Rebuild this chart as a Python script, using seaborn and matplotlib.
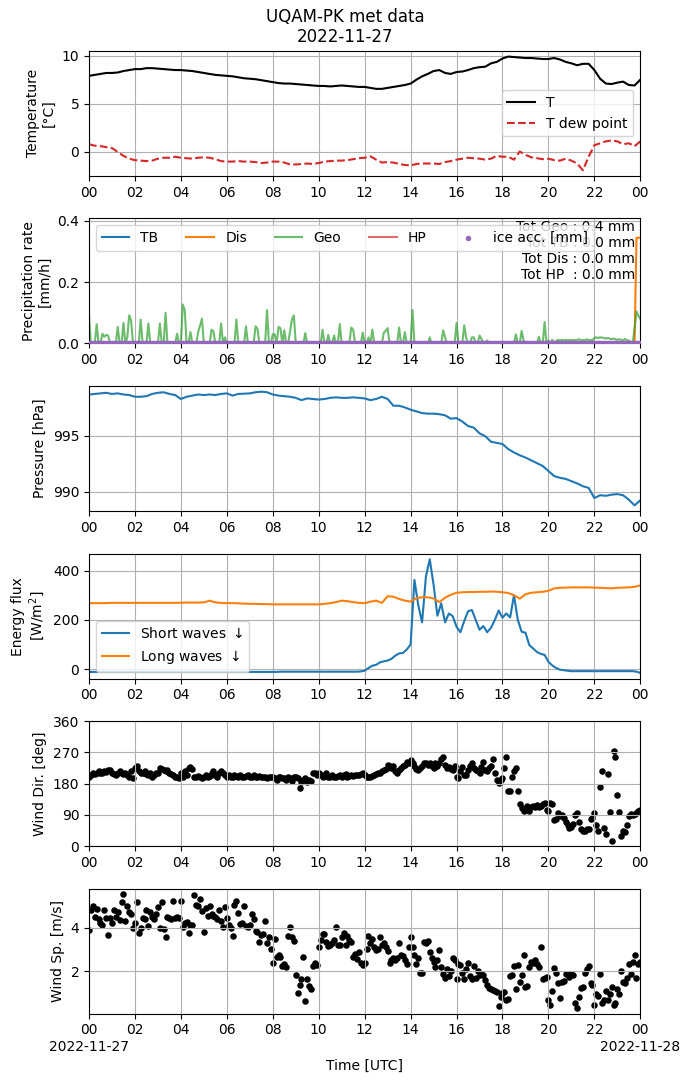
"""
plot.py
Daily met summary for the UQAM-PK station, 2022-11-27.
"""
import numpy as np
import pandas as pd
import matplotlib
matplotlib.use('Agg')
import matplotlib.pyplot as plt
import matplotlib.dates as mdates
import matplotlib.ticker as mticker
import seaborn as sns

DAY = '2022-11-27'

# Temperature and dew point, every 15 min (00:00 -> 24:00)
temp_c = [
    7.9, 8.0, 8.1, 8.2,  8.2, 8.25, 8.4, 8.5,  8.6, 8.6, 8.7, 8.7,
    8.65, 8.6, 8.55, 8.5,  8.5, 8.45, 8.4, 8.3,  8.2, 8.1, 8.0, 7.95,
    7.9, 7.85, 7.75, 7.65,  7.6, 7.55, 7.45, 7.35,  7.25, 7.15, 7.1, 7.1,
    7.05, 7.0, 6.95, 6.9,  6.85, 6.85, 6.8, 6.85,  6.9, 6.85, 6.8, 6.75,
    6.75, 6.65, 6.55, 6.55,  6.65, 6.75, 6.85, 6.95,  7.1, 7.5, 7.85, 8.1,
    8.4, 8.5, 8.2, 8.1,  8.3, 8.35, 8.5, 8.7,  8.8, 8.85, 9.2, 9.35,
    9.7, 9.9, 9.85, 9.8,  9.75, 9.75, 9.7, 9.65,  9.65, 9.75, 9.6, 9.35,
    9.2, 9.0, 9.15, 9.15,  8.5, 7.6, 7.1, 7.05,  7.2, 7.3, 6.95, 6.9,
    7.5,
]
dew_c = [
    0.8, 0.65, 0.6, 0.5,  0.4, 0.0, -0.4, -0.7,  -0.85, -0.9, -0.95, -0.9,
    -0.7, -0.6, -0.6, -0.5,  -0.6, -0.65, -0.7, -0.6,  -0.55, -0.6, -0.75, -0.95,
    -1.0, -1.0, -0.95, -1.0,  -1.0, -1.05, -1.15, -1.1,  -1.0, -1.0, -1.1, -1.3,
    -1.3, -1.25, -1.2, -1.25,  -1.15, -1.0, -0.95, -0.9,  -0.9, -0.85, -0.75, -0.65,
    -0.6, -0.45, -0.8, -1.1,  -1.05, -1.1, -1.25, -1.35,  -1.4, -1.25, -1.2, -1.2,
    -1.2, -1.25, -1.05, -0.95,  -0.8, -0.7, -0.6, -0.65,  -0.7, -0.8, -0.7, -0.4,
    -0.5, -0.5, -0.8, 0.05,  -0.3, -0.55, -0.65, -0.75,  -0.7, -0.85, -0.9, -0.7,
    -0.9, -1.2, -1.9, -0.5,  0.7, 0.9, 1.1, 1.2,  1.1, 0.8, 0.9, 0.6,
    1.1,
]

# Precipitation rates [mm/h], every 5 min (00:00 -> 24:00)
geo_rate = [
    0.087, 0, 0, 0, 0.063, 0, 0, 0.032, 0.022, 0.028, 0.026, 0,
    0, 0, 0, 0.054, 0, 0, 0.067, 0, 0.02, 0.092, 0.075, 0,
    0, 0, 0, 0.078, 0, 0, 0, 0.065, 0, 0, 0, 0,
    0, 0.065, 0, 0, 0.1, 0, 0, 0, 0, 0, 0.032, 0,
    0, 0.127, 0.11, 0, 0, 0.037, 0, 0, 0, 0.037, 0.058, 0.081,
    0, 0, 0, 0, 0.045, 0.04, 0, 0, 0, 0.065, 0, 0.02,
    0, 0, 0, 0, 0, 0.078, 0, 0, 0, 0, 0.056, 0,
    0, 0, 0, 0.056, 0.048, 0, 0, 0, 0, 0.109, 0, 0,
    0.03, 0.03, 0, 0.054, 0.05, 0, 0.043, 0, 0, 0.04, 0.078, 0.092,
    0, 0, 0, 0, 0, 0.034, 0, 0, 0, 0, 0, 0,
    0, 0, 0.045, 0, 0, 0.028, 0, 0, 0.026, 0, 0, 0.063,
    0, 0, 0, 0, 0, 0.052, 0.045, 0, 0, 0, 0, 0.036,
    0, 0, 0.02, 0, 0.045, 0, 0, 0, 0, 0, 0.035, 0.042,
    0.05, 0, 0, 0, 0, 0, 0.052, 0, 0, 0.037, 0, 0,
    0, 0.109, 0, 0, 0, 0, 0, 0, 0, 0, 0.02, 0,
    0, 0, 0, 0, 0, 0.043, 0.02, 0, 0, 0, 0, 0,
    0.067, 0, 0, 0, 0.059, 0.02, 0, 0, 0.02, 0.02, 0, 0,
    0.026, 0.015, 0, 0, 0.01, 0, 0, 0, 0, 0, 0, 0,
    0, 0, 0, 0, 0, 0, 0, 0.03, 0, 0, 0.041, 0.01,
    0, 0, 0, 0, 0, 0, 0, 0.022, 0, 0, 0.07, 0,
    0.01, 0, 0.012, 0, 0.008, 0.012, 0.01, 0.012, 0.01, 0.012, 0.01, 0.012,
    0.01, 0.012, 0.01, 0.012, 0.014, 0.01, 0.012, 0.01, 0.014, 0.01, 0.012, 0.01,
    0.018, 0.02, 0.018, 0.02, 0.019, 0.018, 0.016, 0.018, 0.016, 0.014, 0.016, 0.014,
    0.012, 0.014, 0.012, 0.01, 0.015, 0.01, 0.01, 0.005, 0, 0.05, 0.105, 0.09,
    0.08,
]
dis_rate = [0.0] * 286 + [0.345, 0.345, 0.345]
tb_rate = [0.0] * 289
hp_rate = [0.0] * 289
ice_acc = [0.0] * 289
precip_totals = {'Geo': 0.4, 'TB': 0.0, 'Dis': 0.0, 'HP ': 0.0}

# Pressure [hPa], every 15 min
pressure = [
    998.65, 998.7, 998.75, 998.8,  998.7, 998.75, 998.65, 998.6,
    998.45, 998.45, 998.5, 998.7,  998.8, 998.85, 998.7, 998.6,
    998.25, 998.45, 998.55, 998.65,  998.6, 998.65, 998.6, 998.7,
    998.75, 998.55, 998.7, 998.72,  998.75, 998.85, 998.9, 998.85,
    998.65, 998.55, 998.5, 998.45,  998.35, 998.15, 998.3, 998.25,
    998.2, 998.25, 998.35, 998.4,  998.35, 998.35, 998.4, 998.35,
    998.3, 998.15, 998.25, 998.45,  998.25, 997.65, 997.65, 997.5,
    997.3, 997.15, 997.0, 996.95,  996.95, 996.9, 996.8, 996.5,
    996.55, 996.25, 995.85, 995.7,  995.2, 994.95, 994.45, 994.35,
    994.25, 993.8, 993.5, 993.25,  993.05, 992.8, 992.55, 992.3,
    991.85, 991.4, 991.25, 991.15,  990.95, 990.75, 990.5, 990.35,
    989.45, 989.7, 989.65, 989.75,  989.8, 989.7, 989.3, 988.8,
    989.25,
]

# Long waves, every 15 min
long_wave = [
    268, 268, 268, 268,  269, 269, 269, 269,  269, 269, 269, 269,
    269, 269, 269, 269,  270, 270, 270, 270,  271, 278, 271, 269,
    268, 268, 267, 266,  265, 265, 264, 264,  263, 263, 263, 263,
    263, 263, 263, 263,  263, 265, 268, 272,  278, 276, 272, 269,
    268, 274, 278, 269,  296, 294, 285, 278,  274, 288, 292, 292,
    287, 272, 290, 302,  310, 312, 313, 313,  314, 314, 315, 314,
    312, 309, 300, 286,  304, 310, 312, 314,  318, 328, 330, 331,
    332, 332, 332, 332,  331, 330, 329, 328,  330, 331, 332, 334,
    340,
]
# Short waves, every 10 min
short_wave = [
    -11, -11, -11, -11, -11, -11,  -11, -11, -11, -11, -11, -11,
    -11, -11, -11, -11, -11, -11,  -11, -11, -11, -11, -11, -11,
    -11, -11, -11, -11, -11, -11,  -11, -11, -11, -11, -11, -11,
    -11, -11, -11, -11, -11, -11,  -11, -11, -11, -11, -11, -11,
    -11, -11, -10, -10, -10, -10,  -10, -10, -10, -10, -10, -10,
    -10, -10, -10, -10, -10, -10,  -10, -10, -10, -10, -10, -9,
    -6, 5, 14, 18, 28, 32,  35, 42, 55, 64, 66, 80,
    100, 362, 260, 190, 376, 446,  342, 217, 267, 190, 226, 215,
    172, 150, 195, 235, 240, 200,  160, 175, 150, 168, 200, 238,
    209, 226, 210, 300, 200, 152,  148, 98, 84, 70, 62, 58,
    30, 15, 5, -2, -4, -6,  -8, -8, -8, -8, -8, -8,
    -8, -8, -8, -8, -8, -8,  -8, -8, -8, -8, -8, -10,
    -15,
]

# Wind, every 5 min
wind_dir = [
    200, 205, 210, 208, 212, 215, 210, 212, 215, 213, 218, 220,
    212, 208, 205, 210, 215, 212, 208, 210, 205, 200, 215, 195,
    225, 230, 215, 212, 210, 215, 208, 205, 210, 200, 205, 210,
    212, 225, 222, 220, 215, 218, 212, 208, 205, 200, 198, 195,
    210, 200, 215, 205, 225, 228, 222, 200, 198, 202, 200, 195,
    200, 205, 198, 202, 210, 215, 205, 200, 212, 215, 210, 205,
    200, 205, 198, 200, 205, 202, 200, 205, 200, 198, 202, 205,
    200, 198, 205, 200, 198, 202, 200, 198, 200, 195, 198, 200,
    198, 195, 190, 198, 200, 195, 195, 190, 198, 195, 188, 200,
    198, 195, 168, 185, 190, 195, 185, 190, 188, 210, 212, 205,
    210, 205, 200, 202, 210, 198, 200, 205, 200, 198, 202, 205,
    198, 205, 208, 200, 202, 205, 202, 205, 205, 205, 208, 210,
    205, 200, 198, 200, 202, 205, 208, 210, 212, 215, 218, 222,
    235, 230, 225, 232, 215, 210, 220, 225, 230, 235, 242, 240,
    248, 240, 232, 222, 218, 225, 230, 240, 238, 235, 240, 232,
    225, 240, 232, 240, 250, 258, 235, 225, 228, 222, 218, 230,
    200, 195, 215, 228, 205, 205, 220, 232, 238, 225, 220, 215,
    210, 228, 242, 220, 215, 225, 230, 250, 210, 190, 182, 190,
    195, 225, 258, 160, 158, 200, 215, 225, 160, 120, 110, 100,
    108, 115, 100, 112, 115, 112, 118, 112, 115, 120, 125, 105,
    102, 125, 120, 75, 78, 95, 88, 90, 80, 70, 60, 52,
    55, 65, 90, 95, 70, 48, 45, 45, 48, 50, 78, 80,
    96, 62, 45, 170, 217, 52, 35, 207, 98, 15, 275, 258,
    147, 98, 30, 45, 40, 60, 88, 92, 90, 92, 95, 100,
    105,
]
wind_speed = [
    3.9, 4.82, 4.98, 4.5, 4.85, 4.4, 4.2, 4.12, 4.82, 4.43, 3.66, 4.43,
    4.2, 4.82, 4.5, 4.7, 4.36, 5.16, 5.52, 4.28, 4.98, 4.7, 4.6, 4.0,
    4.23, 5.16, 3.77, 3.97, 4.43, 4.4, 4.82, 4.08, 4.7, 4.5, 4.4, 4.6,
    4.95, 3.97, 5.16, 3.92, 3.58, 4.5, 4.43, 4.4, 5.2, 4.45, 4.5, 4.45,
    5.2, 4.05, 4.2, 4.25, 3.77, 4.12, 4.1, 5.47, 5.05, 5.0, 5.32, 4.74,
    3.8, 4.9, 4.54, 4.98, 4.6, 4.55, 4.5, 4.4, 4.82, 4.3, 4.05, 4.95,
    4.43, 4.12, 4.0, 3.6, 5.05, 5.2, 4.67, 4.17, 4.23, 4.98, 4.08, 4.05,
    4.12, 4.6, 4.4, 3.85, 3.78, 3.35, 3.66, 3.7, 4.28, 3.3, 3.58, 3.04,
    2.37, 3.5, 2.68, 2.73, 2.68, 2.27, 2.35, 2.22, 3.6, 4.05, 3.58, 3.4,
    1.85, 1.02, 1.4, 1.64, 2.68, 0.66, 1.64, 1.33, 1.22, 2.27, 2.37, 2.3,
    3.12, 3.43, 3.73, 3.7, 3.35, 3.15, 3.2, 3.3, 3.43, 4.05, 3.22, 3.2,
    3.55, 3.77, 3.2, 3.6, 3.45, 3.35, 2.68, 2.8, 2.57, 2.88, 2.4, 2.31,
    2.4, 3.04, 3.6, 3.3, 3.5, 3.1, 3.0, 3.04, 3.55, 3.2, 3.3, 3.1,
    2.95, 2.4, 2.5, 2.6, 2.5, 2.6, 3.3, 2.73, 2.7, 2.5, 2.35, 3.1,
    3.58, 3.1, 2.73, 2.35, 2.6, 1.95, 1.95, 3.35, 3.3, 3.4, 2.9, 2.6,
    2.45, 2.2, 2.5, 3.0, 2.2, 1.9, 1.7, 2.1, 1.8, 2.0, 2.6, 2.5,
    1.65, 2.35, 2.3, 1.95, 1.65, 2.1, 2.4, 1.8, 1.65, 2.25, 1.7, 2.0,
    1.85, 1.9, 1.85, 1.6, 1.4, 1.25, 1.2, 1.15, 1.1, 1.05, 0.4, 0.85,
    1.0, 1.05, 0.7, 0.75, 1.8, 1.85, 2.25, 1.2, 2.3, 1.5, 1.85, 2.75,
    1.3, 1.35, 2.2, 2.45, 2.4, 2.5, 2.35, 2.2, 3.1, 1.65, 1.7, 1.75,
    0.7, 0.48, 1.1, 2.15, 1.95, 1.45, 0.8, 1.5, 1.55, 1.9, 1.9, 1.75,
    1.9, 1.85, 0.56, 0.33, 0.85, 1.26, 1.3, 1.95, 2.1, 2.27, 1.47, 1.4,
    0.48, 0.95, 0.9, 1.9, 0.56, 0.7, 1.1, 0.7, 0.95, 1.3, 0.48, 0.56,
    1.18, 0.95, 2.0, 1.5, 1.45, 1.7, 2.35, 1.9, 2.45, 2.73, 1.7, 2.35,
    2.45,
]


def time_index(n, freq):
    return pd.date_range(DAY, periods=n, freq=freq)


def format_time_axis(ax, bottom=False):
    start = pd.Timestamp(DAY)
    ax.set_xlim(start, start + pd.Timedelta(days=1))
    ax.xaxis.set_major_locator(mdates.HourLocator(byhour=range(0, 24, 2)))
    if bottom:
        def fmt(x, pos):
            d = mdates.num2date(x)
            s = d.strftime('%H')
            if d.hour == 0:
                s += '\n' + d.strftime('%Y-%m-%d')
            return s
        ax.xaxis.set_major_formatter(mticker.FuncFormatter(fmt))
    else:
        ax.xaxis.set_major_formatter(mdates.DateFormatter('%H'))
    ax.set_xlabel('')
    ax.grid(True)


def main():
    df_t = pd.DataFrame({'time': time_index(len(temp_c), '15min'),
                         'T': temp_c, 'Td': dew_c, 'P': pressure, 'LW': long_wave})
    df_p = pd.DataFrame({'time': time_index(len(geo_rate), '5min'),
                         'TB': tb_rate, 'Dis': dis_rate, 'Geo': geo_rate,
                         'HP': hp_rate, 'ice': ice_acc,
                         'dir': wind_dir, 'speed': wind_speed})
    df_sw = pd.DataFrame({'time': time_index(len(short_wave), '10min'), 'SW': short_wave})

    fig, axes = plt.subplots(6, 1, figsize=(6.9, 10.83), dpi=100)
    fig.subplots_adjust(left=0.129, right=0.928, top=0.953, bottom=0.064, hspace=0.34)
    fig.suptitle('UQAM-PK met data\n' + DAY, y=0.993, va='top')

    # Temperature
    ax = axes[0]
    sns.lineplot(data=df_t, x='time', y='T', ax=ax, color='black', label='T')
    sns.lineplot(data=df_t, x='time', y='Td', ax=ax, color='tab:red',
                 linestyle='--', label='T dew point')
    ax.legend(loc='center right')
    ax.set_ylabel('Temperature\n[°C]')
    format_time_axis(ax)

    # Precipitation
    ax = axes[1]
    sns.lineplot(data=df_p, x='time', y='TB', ax=ax, color='tab:blue', label='TB')
    sns.lineplot(data=df_p, x='time', y='Dis', ax=ax, color='tab:orange', label='Dis')
    sns.lineplot(data=df_p, x='time', y='Geo', ax=ax, color='tab:green', alpha=0.7, label='Geo')
    sns.lineplot(data=df_p, x='time', y='HP', ax=ax, color='tab:red', alpha=0.7, label='HP')
    sns.scatterplot(data=df_p, x='time', y='ice', ax=ax, color='tab:purple',
                    s=16, linewidth=0, label='ice acc. [mm]', zorder=3)
    ax.set_ylim(0, 0.408)
    ax.legend(loc='upper left', ncol=5)
    tot = '\n'.join(f'Tot {k} : {v:.1f} mm' for k, v in precip_totals.items())
    ax.text(0.99, 0.99, tot, transform=ax.transAxes, ha='right', va='top')
    ax.set_ylabel('Precipitation rate\n[mm/h]')
    format_time_axis(ax)

    # Pressure
    ax = axes[2]
    sns.lineplot(data=df_t, x='time', y='P', ax=ax, color='tab:blue')
    ax.set_ylabel('Pressure [hPa]')
    format_time_axis(ax)

    # Radiation
    ax = axes[3]
    sns.lineplot(data=df_sw, x='time', y='SW', ax=ax, color='tab:blue', label='Short waves $\\downarrow$')
    sns.lineplot(data=df_t, x='time', y='LW', ax=ax, color='tab:orange', label='Long waves $\\downarrow$')
    ax.legend(loc='lower left')
    ax.set_ylabel('Energy flux\n[W/m$^2$]')
    format_time_axis(ax)

    # Wind direction
    ax = axes[4]
    sns.scatterplot(data=df_p, x='time', y='dir', ax=ax, color='black', s=22, linewidth=0)
    ax.set_ylim(0, 360)
    ax.set_yticks([0, 90, 180, 270, 360])
    ax.set_ylabel('Wind Dir. [deg]')
    format_time_axis(ax)

    # Wind speed
    ax = axes[5]
    sns.scatterplot(data=df_p, x='time', y='speed', ax=ax, color='black', s=22, linewidth=0)
    ax.set_ylabel('Wind Sp. [m/s]')
    format_time_axis(ax, bottom=True)
    ax.set_xlabel('Time [UTC]')

    fig.savefig('out.png', dpi=100)


if __name__ == '__main__':
    main()
